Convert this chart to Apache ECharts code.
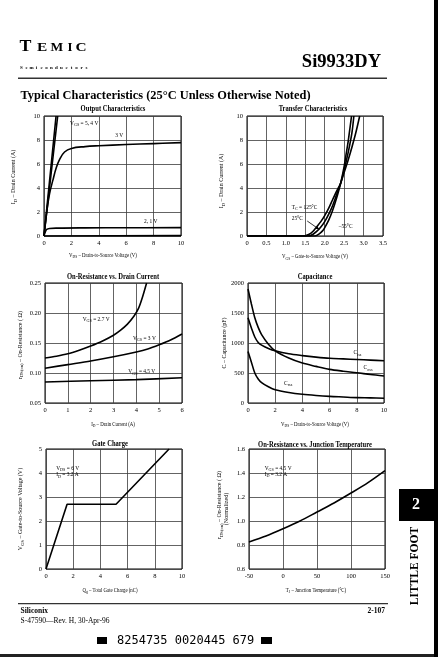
<!DOCTYPE html>
<html><head><meta charset="utf-8">
<script src="https://cdn.jsdelivr.net/npm/echarts@6/dist/echarts.min.js"></script>
<style>html,body{margin:0;padding:0;background:#fff}#c{width:438px;height:657px}</style>
</head><body><div id="c"></div>
<script>
// ---------------- DATA ----------------
// Output characteristics (VDS V, ID A)
const outVgs5 = [[0,0],[0.45,5.1],[0.88,10]];
const outVgs4 = [[0,0],[0.5,5.0],[1.0,10]];
const outVgs3 = [[0,0],[0.2,2.0],[0.4,3.5],[0.66,4.7],[0.9,5.7],[1.15,6.4],[1.5,7.0],[2,7.3],[3,7.45],[4,7.52],[6,7.62],[8,7.7],[10,7.78]];
const outVgs2 = [[0,0],[0.1,0.35],[0.2,0.55],[0.4,0.63],[1,0.66],[3,0.68],[6,0.69],[10,0.7]];
const outVgs1 = [[0,0],[10,0.03]];
// Transfer characteristics (VGS V, ID A)
const trT125 = [[0,0],[1.45,0],[1.6,0.15],[1.7,0.4],[1.8,0.8],[1.9,1.2],[2.0,1.7],[2.1,2.3],[2.2,3.0],[2.3,3.7],[2.41,4.4],[2.5,5.3],[2.6,6.3],[2.7,7.4],[2.8,8.6],[2.9,10]];
const trT25  = [[0,0],[1.6,0],[1.7,0.15],[1.8,0.4],[1.9,0.75],[2.0,1.2],[2.1,1.8],[2.2,2.5],[2.3,3.4],[2.41,4.4],[2.5,5.5],[2.6,6.9],[2.7,8.6],[2.75,10]];
const trTm55 = [[0,0],[1.75,0],[1.85,0.15],[1.95,0.45],[2.0,0.7],[2.1,1.3],[2.2,2.1],[2.3,3.1],[2.41,4.4],[2.5,5.8],[2.55,6.8],[2.6,7.8],[2.65,9.0],[2.69,10]];
// On-resistance vs drain current (ID A, rDS Ohm)
const ronVgs27 = [[0,0.125],[0.5,0.128],[1,0.132],[1.5,0.138],[2,0.145],[2.5,0.153],[3,0.163],[3.3,0.171],[3.6,0.181],[3.9,0.195],[4.1,0.208],[4.25,0.224],[4.45,0.25]];
const ronVgs3  = [[0,0.108],[1,0.114],[2,0.12],[3,0.127],[4,0.135],[4.5,0.140],[5,0.147],[5.5,0.155],[6,0.165]];
const ronVgs45 = [[0,0.085],[2,0.087],[4,0.089],[6,0.092]];
// Capacitance (VDS V, C pF)
const capCoss = [[0,1900],[0.25,1650],[0.5,1420],[0.75,1260],[1,1140],[1.5,980],[2,870],[3,750],[4,665],[5,610],[6,560],[7,530],[8,505],[9,475],[10,450]];
const capCiss = [[0,1420],[0.25,1250],[0.5,1100],[0.75,1010],[1,965],[1.5,910],[2,870],[3,820],[4,790],[5,765],[6,745],[7,735],[8,725],[9,715],[10,705]];
const capCrss = [[0,860],[0.25,680],[0.5,500],[0.75,400],[1,340],[1.5,270],[2,220],[3,175],[4,145],[5,125],[6,110],[7,100],[8,90],[9,85],[10,78]];
// Gate charge (Qg nC, VGS V)
const gateCharge = [[0,0],[1.55,2.7],[5.15,2.7],[9.05,5]];
// On-resistance vs junction temperature (TJ C, normalized)
const ronTemp = [[-50,0.825],[-25,0.875],[0,0.935],[25,1.0],[50,1.075],[75,1.15],[100,1.233],[125,1.32],[150,1.42]];
// Tick labels
const transferXTicks = ['0','0.5','1.0','1.5','2.0','2.5','3.0','3.5'];
const ronYTicks = ['0.05','0.10','0.15','0.20','0.25'];
const tempYTicks = ['0.6','0.8','1.0','1.2','1.4','1.6'];

// ---------------- CHART ----------------
const FF = "'Liberation Serif','Times New Roman',serif";
const chart = echarts.init(document.getElementById('c'), null, {renderer:'canvas'});

const grids = [
  {left:44, top:116, width:137, height:120},
  {left:247, top:116, width:136, height:120},
  {left:45, top:283, width:137, height:120},
  {left:248, top:283, width:136, height:120},
  {left:46, top:449, width:136, height:120},
  {left:249, top:449, width:136, height:120}
];
const xSpec = [
  {min:0,max:10,interval:2},
  {min:0,max:3.5,interval:0.5,fmt:v=>transferXTicks[Math.round(v/0.5)]},
  {min:0,max:6,interval:1},
  {min:0,max:10,interval:2},
  {min:0,max:10,interval:2},
  {min:-50,max:150,interval:50}
];
const ySpec = [
  {min:0,max:10,interval:2},
  {min:0,max:10,interval:2},
  {min:0.05,max:0.25,interval:0.05,fmt:v=>ronYTicks[Math.round((v-0.05)/0.05)]},
  {min:0,max:2000,interval:500},
  {min:0,max:5,interval:1},
  {min:0.6,max:1.6,interval:0.2,fmt:v=>tempYTicks[Math.round((v-0.6)/0.2)]}
];
function axis(spec, i, isX){
  return {
    type:'value', gridIndex:i, min:spec.min, max:spec.max, interval:spec.interval,
    axisLine:{show:false}, axisTick:{show:false},
    splitLine:{show:true, lineStyle:{color:'#3c3c3c', width:0.8}},
    axisLabel:{fontFamily:FF, fontSize:6.5, color:'#000', margin:4,
      formatter: spec.fmt ? spec.fmt : (v=>String(Math.round(v*1000)/1000))}
  };
}
const lineS = (data, xi, smooth) => ({
  type:'line', data, xAxisIndex:xi, yAxisIndex:xi, showSymbol:false, symbol:'none',
  smooth: smooth===undefined?0.35:smooth, clip:true, silent:true, animation:false,
  lineStyle:{color:'#000', width:1.6}
});

const option = {
  animation:false,
  backgroundColor:'#fff',
  grid: grids.map(g=>Object.assign({show:true, borderColor:'#000', borderWidth:1, backgroundColor:'transparent'}, g)),
  xAxis: xSpec.map((s,i)=>axis(s,i,true)),
  yAxis: ySpec.map((s,i)=>axis(s,i,false)),
  series: [
    lineS(outVgs5,0,false), lineS(outVgs4,0,false), lineS(outVgs3,0,0.4), lineS(outVgs2,0,0.4), lineS(outVgs1,0,false),
    lineS(trT125,1,0.3), lineS(trT25,1,0.3), lineS(trTm55,1,0.3),
    lineS(ronVgs27,2,0.3), lineS(ronVgs3,2,0.3), lineS(ronVgs45,2,0.3),
    lineS(capCoss,3,0.3), lineS(capCiss,3,0.3), lineS(capCrss,3,0.3),
    lineS(gateCharge,4,false),
    lineS(ronTemp,5,0.3)
  ]
};
chart.setOption(option);

// ---------------- TEXT / GRAPHICS ----------------
const SUB = {fontSize:4.6, fontFamily:FF, verticalAlign:'bottom', lineHeight:5, fill:'#000'};
function txt(x, y, text, o){
  o = o || {};
  const size = o.size || 6;
  return {
    type:'text', x, y, silent:true, rotation:o.rot||0, scaleX:o.sx||1, scaleY:o.sy||1,
    style:{
      text, fontFamily:o.ff||FF, fontSize:size, fontWeight:o.bold?'bold':'normal',
      fill:o.color||'#000', align:o.align||'center', verticalAlign:o.va||'middle',
      textAlign:o.align||'center', textVerticalAlign:o.va||'middle',
      lineHeight: o.lh || size+3,
      rich: {s: Object.assign({}, SUB, o.sub||{})}
    }
  };
}
const G = [];
// page header
G.push(txt(19.5, 46.8, 'T', {size:17, bold:true, align:'left', sx:1.05}));
[['E',37,1.2],['M',50.5,1.05],['I',67.5,1.0],['C',75.5,1.2]].forEach(([c,x,s])=>G.push(txt(x, 48, c, {size:12.8, bold:true, align:'left', sx:s})));
const semi = 'Semiconductors';
for (let i=0;i<semi.length;i++) G.push(txt(21.5 + i*5.0, 67.5, semi[i], {size:5, bold:true}));
G.push(txt(381, 62, 'Si9933DY', {size:18.5, bold:true, align:'right'}));
G.push({type:'rect', silent:true, shape:{x:18, y:77.5, width:369, height:1.4}, style:{fill:'#333'}});
G.push(txt(20.5, 96, 'Typical Characteristics (25°C Unless Otherwise Noted)', {size:12.4, bold:true, align:'left'}));
// footer
G.push({type:'rect', silent:true, shape:{x:18, y:603, width:370, height:1.3}, style:{fill:'#333'}});
G.push(txt(20.5, 611, 'Siliconix', {size:7.5, bold:true, align:'left'}));
G.push(txt(20.5, 621, 'S-47590—Rev. H, 30-Apr-96', {size:7.5, align:'left'}));
G.push(txt(385, 611, '2-107', {size:7.5, bold:true, align:'right'}));
G.push({type:'rect', silent:true, shape:{x:97, y:637, width:10, height:7}, style:{fill:'#000'}});
G.push({type:'rect', silent:true, shape:{x:261, y:637, width:11, height:7}, style:{fill:'#000'}});
G.push(txt(117, 641, '8254735 0020445 679', {size:12, align:'left', ff:"'DejaVu Sans Mono',monospace"}));
G.push({type:'rect', silent:true, shape:{x:0, y:654, width:438, height:3}, style:{fill:'#222'}});
// right tab
G.push({type:'rect', silent:true, shape:{x:434, y:0, width:4, height:657}, style:{fill:'#000'}});
G.push({type:'rect', silent:true, shape:{x:399, y:489, width:37, height:32}, style:{fill:'#000'}});
G.push(txt(416, 505, '2', {size:16, bold:true, color:'#fff'}));
G.push(txt(415, 566, 'LITTLE FOOT', {size:11.5, bold:true, rot:Math.PI/2}));

// chart titles
const SX = 0.8;
[[113,109,'Output Characteristics'],[313,109,'Transfer Characteristics'],
 [113,277,'On-Resistance vs. Drain Current'],[315,277.5,'Capacitance'],
 [110,444.5,'Gate Charge'],[315,445,'On-Resistance vs. Junction Temperature']]
 .forEach(([x,y,t])=>G.push(txt(x,y,t,{size:7.3, bold:true, sx:0.9})));
// axis names
[[103,255,'V{s|DS} – Drain-to-Source Voltage (V)'],[315,256.5,'V{s|GS} – Gate-to-Source Voltage (V)'],
 [113,424,'I{s|D} – Drain Current (A)'],[315,424,'V{s|DS} – Drain-to-Source Voltage (V)'],
 [110,590,'Q{s|g} – Total Gate Charge (nC)'],[316,590,'T{s|J} – Junction Temperature (°C)']]
 .forEach(([x,y,t])=>G.push(txt(x,y,t,{size:6, sx:SX})));
[[13.5,177,'I{s|D} – Drain Current (A)'],[221.5,181,'I{s|D} – Drain Current (A)'],
 [20,345,'r{s|DS(on)} – On-Resistance ( Ω)'],[224,343,'C – Capacitance (pF)'],
 [20.5,509,'V{s|GS} – Gate-to-Source Voltage (V)'],[219.5,505,'r{s|DS(on)} – On-Resistance ( Ω)'],
 [226.5,509,'(Normalized)']]
 .forEach(([x,y,t])=>G.push(txt(x,y,t,{size:6, rot:Math.PI/2})));

// in-plot annotations (data coordinates)
const P = (gi, pt) => chart.convertToPixel({gridIndex:gi}, pt);
function ann(gi, pt, t, o){ const p=P(gi,pt); G.push(txt(p[0],p[1],t,Object.assign({size:6, align:'left', sx:0.9},o||{}))); }
ann(0,[1.9,9.4],'V{s|GS} = 5, 4 V');
ann(0,[5.2,8.4],'3 V');
ann(0,[7.3,1.25],'2, 1 V');
ann(1,[1.15,2.4],'T{s|C} = 125°C');
ann(1,[1.15,1.45],'25°C');
ann(1,[2.36,0.8],'–55°C');
{
  const a=P(1,[1.55,1.25]), b=P(1,[1.86,0.55]);
  G.push({type:'line', silent:true, shape:{x1:a[0],y1:a[1],x2:b[0],y2:b[1]}, style:{stroke:'#000', lineWidth:0.8}});
  const ang=Math.atan2(b[1]-a[1], b[0]-a[0]), L=3.5, W=1.6;
  const bx=b[0]-L*Math.cos(ang), by=b[1]-L*Math.sin(ang);
  G.push({type:'polygon', silent:true, shape:{points:[[b[0],b[1]],[bx+W*Math.sin(ang),by-W*Math.cos(ang)],[bx-W*Math.sin(ang),by+W*Math.cos(ang)]]}, style:{fill:'#000'}});
}
ann(2,[1.65,0.19],'V{s|GS} = 2.7 V');
ann(2,[3.85,0.158],'V{s|GS} = 3 V');
ann(2,[3.65,0.102],'V{s|GS} = 4.5 V');
ann(3,[7.75,835],'C{s|iss}');
ann(3,[8.5,590],'C{s|oss}');
ann(3,[2.65,330],'C{s|rss}');
ann(4,[0.75,4.2],'V{s|DS} = 6 V');
ann(4,[0.75,3.93],'I{s|D} = 3.2 A');
ann(5,[-27,1.44],'V{s|GS} = 4.5 V');
ann(5,[-27,1.39],'I{s|D} = 3.2 A');

chart.setOption({graphic: G});
</script></body></html>
